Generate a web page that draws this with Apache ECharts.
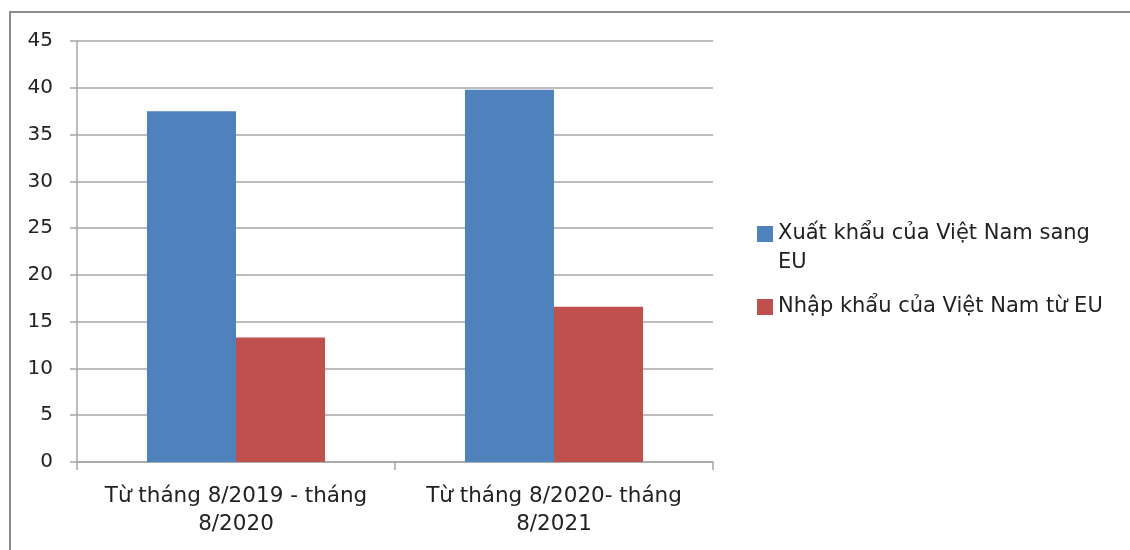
<!DOCTYPE html>
<html>
<head>
<meta charset="utf-8">
<script src="https://cdn.jsdelivr.net/npm/echarts@6/dist/echarts.min.js"></script>
<style>
  html, body { margin: 0; padding: 0; background: #fff; }
  #chart { width: 1130px; height: 550px; }
</style>
</head>
<body>
<div id="chart"></div>
<script>
// Trade between Viet Nam and the EU (billion USD)
const categories = ['Từ tháng 8/2019 - tháng\n8/2020', 'Từ tháng 8/2020- tháng\n8/2021'];
const exportName = 'Xuất khẩu của Việt Nam sang EU';
const importName = 'Nhập khẩu của Việt Nam từ EU';
const exportValues = [37.5, 39.8];
const importValues = [13.3, 16.6];

const FONT = 'DejaVu Sans';
const TEXT = '#222222';
const LINE = '#a6a6a6';

// Legend swatches: a square inside a tall box so the swatch sits on the
// first text line (two-line entry) or the middle (one-line entry).
const ICON_TOP = 'path://M0,0h0.01v0.01h-0.01zM0,7h16v16h-16zM0,58h0.01v-0.01h-0.01z';
const ICON_MID = 'path://M0,0h0.01v0.01h-0.01zM0,21h16v16h-16zM0,58h0.01v-0.01h-0.01z';

const chart = echarts.init(document.getElementById('chart'), null, { renderer: 'canvas' });
chart.setOption({
  animation: false,
  textStyle: { fontFamily: FONT },
  graphic: [{
    type: 'rect',
    shape: { x: 10, y: 12, width: 1140, height: 560 },
    style: { fill: 'none', stroke: '#8c8c8c', lineWidth: 2 },
    silent: true
  }],
  grid: { left: 77, right: 417, top: 41, bottom: 88, containLabel: false },
  legend: {
    orient: 'vertical',
    left: 757,
    top: 219,
    padding: 0,
    itemWidth: 16,
    itemHeight: 58,
    itemGap: 1,
    symbolKeepAspect: false,
    formatter: function (name) {
      return name === exportName ? 'Xuất khẩu của Việt Nam sang\nEU' : name;
    },
    textStyle: { fontFamily: FONT, fontSize: 21, color: TEXT, lineHeight: 29 },
    data: [
      { name: exportName, icon: ICON_TOP },
      { name: importName, icon: ICON_MID }
    ]
  },
  xAxis: {
    type: 'category',
    data: categories,
    axisLine: { lineStyle: { color: LINE, width: 1.5 } },
    axisTick: { show: true, interval: 0, length: 8, lineStyle: { color: LINE, width: 1.5 } },
    axisLabel: {
      interval: 0,
      hideOverlap: false,
      fontFamily: FONT,
      fontSize: 21.5,
      color: TEXT,
      margin: 20,
      lineHeight: 28
    }
  },
  yAxis: {
    type: 'value',
    min: 0,
    max: 45,
    interval: 5,
    axisLine: { show: true, lineStyle: { color: LINE, width: 1.5 } },
    axisTick: { show: true, length: 7, lineStyle: { color: LINE, width: 1.5 } },
    splitLine: { lineStyle: { color: LINE, width: 1.5 } },
    axisLabel: { fontFamily: FONT, fontSize: 20, color: TEXT, margin: 24 }
  },
  series: [
    {
      name: exportName,
      type: 'bar',
      data: exportValues,
      barGap: '0%',
      barCategoryGap: '44%',
      itemStyle: { color: '#4F81BD' }
    },
    {
      name: importName,
      type: 'bar',
      data: importValues,
      itemStyle: { color: '#C0504D' }
    }
  ]
});
</script>
</body>
</html>
